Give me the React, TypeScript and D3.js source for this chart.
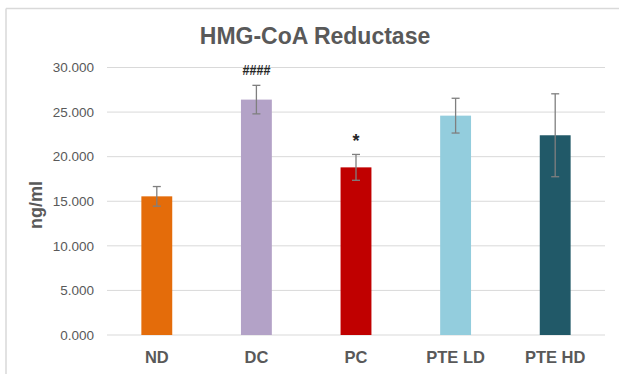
import React from "react";
import * as d3 from "d3";

const categories = ["ND", "DC", "PC", "PTE LD", "PTE HD"];
const means = [15.55, 26.4, 18.8, 24.6, 22.4];
const errors = [1.1, 1.6, 1.45, 1.95, 4.65];
const colors = ["#E46C0A", "#B3A2C7", "#C00000", "#93CDDD", "#215968"];
const annotations = ["", "####", "*", "", ""];
const yTicks = [0, 5, 10, 15, 20, 25, 30];

const W = 619;
const H = 374;
const margin = { left: 107, right: 14, top: 67.5, bottom: 39 };

export default function App() {
  const x = d3
    .scaleBand<string>()
    .domain(categories)
    .range([margin.left, W - margin.right])
    .paddingInner(0.69)
    .paddingOuter(0.345);
  const y = d3.scaleLinear().domain([0, 30]).range([H - margin.bottom, margin.top]);
  const fmt = d3.format(".3f");
  const font = "'Liberation Sans', Arial, sans-serif";

  return (
    <svg
      width={W}
      height={H}
      style={{ position: "absolute", left: 0, top: 0, fontFamily: font }}
    >
      <rect x={0} y={0} width={W} height={H} fill="#fff" />
      <line x1={6} x2={W} y1={8.5} y2={8.5} stroke="#d9d9d9" strokeWidth={1.5} />
      <line x1={6} x2={6} y1={8.5} y2={H} stroke="#d9d9d9" strokeWidth={1.5} />
      <text x={315} y={44} textAnchor="middle" fontSize={23} fontWeight="bold" fill="#595959">
        HMG-CoA Reductase
      </text>
      {yTicks.map((t) => (
        <g key={t}>
          <line
            x1={margin.left}
            x2={W - margin.right}
            y1={y(t)}
            y2={y(t)}
            stroke="#d9d9d9"
            strokeWidth={1}
          />
          <text
            x={94}
            y={y(t)}
            dy="0.35em"
            textAnchor="end"
            fontSize={13.5}
            fill="#595959"
          >
            {fmt(t)}
          </text>
        </g>
      ))}
      <text
        transform={`translate(42, ${205}) rotate(-90)`}
        textAnchor="middle"
        fontSize={18}
        fontWeight="bold"
        fill="#595959"
      >
        ng/ml
      </text>
      {categories.map((c, i) => {
        const bx = x(c)!;
        const cx = bx + x.bandwidth() / 2;
        const top = y(means[i] + errors[i]);
        const bot = y(means[i] - errors[i]);
        return (
          <g key={c}>
            <rect
              x={bx}
              y={y(means[i])}
              width={x.bandwidth()}
              height={y(0) - y(means[i])}
              fill={colors[i]}
            />
            <line x1={cx} x2={cx} y1={top} y2={bot} stroke="#7f7f7f" strokeWidth={1.3} />
            <line x1={cx - 4} x2={cx + 4} y1={top} y2={top} stroke="#7f7f7f" strokeWidth={1.3} />
            <line x1={cx - 4} x2={cx + 4} y1={bot} y2={bot} stroke="#7f7f7f" strokeWidth={1.3} />
            {annotations[i] && (
              <text
                x={cx}
                y={annotations[i] === "*" ? top - 7 : top - 10}
                textAnchor="middle"
                fontSize={annotations[i] === "*" ? 18 : 15}
                fontWeight="bold"
                fill="#262626"
                textLength={annotations[i] === "*" ? undefined : 28}
                lengthAdjust="spacingAndGlyphs"
              >
                {annotations[i]}
              </text>
            )}
            <text
              x={cx}
              y={357}
              dy="0.35em"
              textAnchor="middle"
              fontSize={16.5}
              fontWeight="bold"
              fill="#595959"
            >
              {c}
            </text>
          </g>
        );
      })}
    </svg>
  );
}
